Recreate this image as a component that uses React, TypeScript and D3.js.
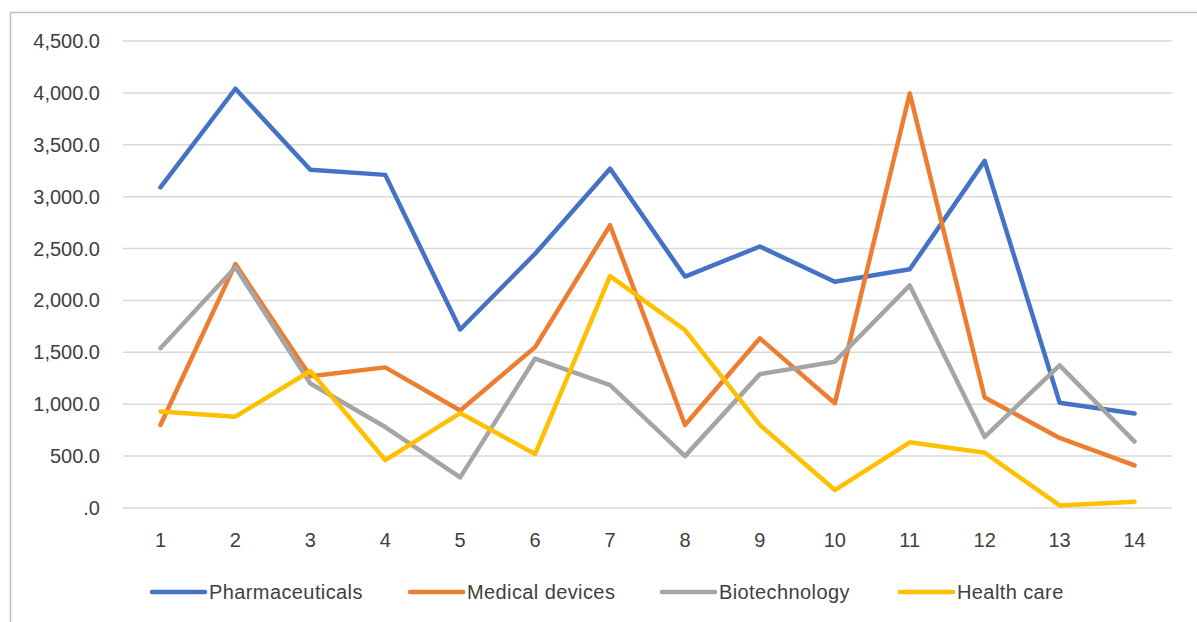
import { useEffect, useRef } from 'react'
import * as d3 from 'd3'

const categories = ['1', '2', '3', '4', '5', '6', '7', '8', '9', '10', '11', '12', '13', '14']
const pharmaceuticals = [3090, 4040, 3260, 3210, 1720, 2450, 3270, 2230, 2520, 2180, 2300, 3345, 1015, 910]
const medicalDevices = [800, 2350, 1270, 1355, 940, 1550, 2725, 800, 1635, 1010, 3995, 1065, 675, 410]
const biotechnology = [1540, 2320, 1200, 780, 295, 1440, 1185, 500, 1290, 1410, 2145, 685, 1375, 640]
const healthCare = [930, 880, 1320, 462, 915, 520, 2235, 1715, 800, 173, 633, 533, 25, 61]
const yTicks = [0, 500, 1000, 1500, 2000, 2500, 3000, 3500, 4000, 4500]

const series = [
  { name: 'Pharmaceuticals', values: pharmaceuticals, color: '#4472C4' },
  { name: 'Medical devices', values: medicalDevices, color: '#ED7D31' },
  { name: 'Biotechnology', values: biotechnology, color: '#A5A5A5' },
  { name: 'Health care', values: healthCare, color: '#FFC000' },
]

const FONT = 'Liberation Sans, Arial, sans-serif'

export default function App() {
  const ref = useRef<SVGSVGElement>(null)

  useEffect(() => {
    const width = 1197
    const height = 622
    const svg = d3.select(ref.current)
    svg.selectAll('*').remove()

    const x = d3.scaleBand().domain(categories).range([123, 1172])
    const cx = (c: string) => (x(c) ?? 0) + x.bandwidth() / 2
    const y = d3.scaleLinear().domain([0, 4500]).range([508, 41])

    // frame (runs off the right and bottom edges)
    svg.append('path')
      .attr('d', `M10.5,${height}V12.5H${width}`)
      .attr('fill', 'none')
      .attr('stroke', '#bfbfbf')
      .attr('stroke-width', 1.5)

    // gridlines
    svg.append('g').selectAll('line')
      .data(yTicks)
      .join('line')
      .attr('x1', 123).attr('x2', 1172)
      .attr('y1', d => y(d)).attr('y2', d => y(d))
      .attr('stroke', '#d9d9d9')
      .attr('stroke-width', 1.5)

    const fmt = (d: number) => d === 0 ? '.0' : d3.format(',.1f')(d)

    svg.append('g').selectAll('text')
      .data(yTicks)
      .join('text')
      .attr('x', 100)
      .attr('y', d => y(d))
      .attr('dy', '0.35em')
      .attr('text-anchor', 'end')
      .style('font-family', FONT)
      .style('font-size', '20px')
      .style('fill', '#404040')
      .text(fmt)

    svg.append('g').selectAll('text')
      .data(categories)
      .join('text')
      .attr('x', cx)
      .attr('y', 540)
      .attr('dy', '0.35em')
      .attr('text-anchor', 'middle')
      .style('font-family', FONT)
      .style('font-size', '20px')
      .style('fill', '#404040')
      .text(d => d)

    const line = d3.line<number>()
      .x((_, i) => cx(categories[i]))
      .y(d => y(d))

    series.forEach(s => {
      svg.append('path')
        .datum(s.values)
        .attr('d', line)
        .attr('fill', 'none')
        .attr('stroke', s.color)
        .attr('stroke-width', 4.5)
        .attr('stroke-linejoin', 'round')
        .attr('stroke-linecap', 'round')
    })

    // Legend
    const legendX = [152, 410, 662, 900]
    series.forEach((s, i) => {
      const g = svg.append('g').attr('transform', `translate(${legendX[i]}, 592)`)
      g.append('line')
        .attr('x1', 0).attr('x2', 53)
        .attr('stroke', s.color)
        .attr('stroke-width', 4.5)
        .attr('stroke-linecap', 'round')
      g.append('text')
        .attr('x', 57)
        .attr('dy', '0.35em')
        .style('font-family', FONT)
        .style('font-size', '20px')
        .style('letter-spacing', '0.4px')
        .style('fill', '#404040')
        .text(s.name)
    })
  }, [])

  return (
    <svg
      ref={ref}
      width={1197}
      height={622}
      style={{ position: 'absolute', left: 0, top: 0, background: '#fff' }}
    />
  )
}
